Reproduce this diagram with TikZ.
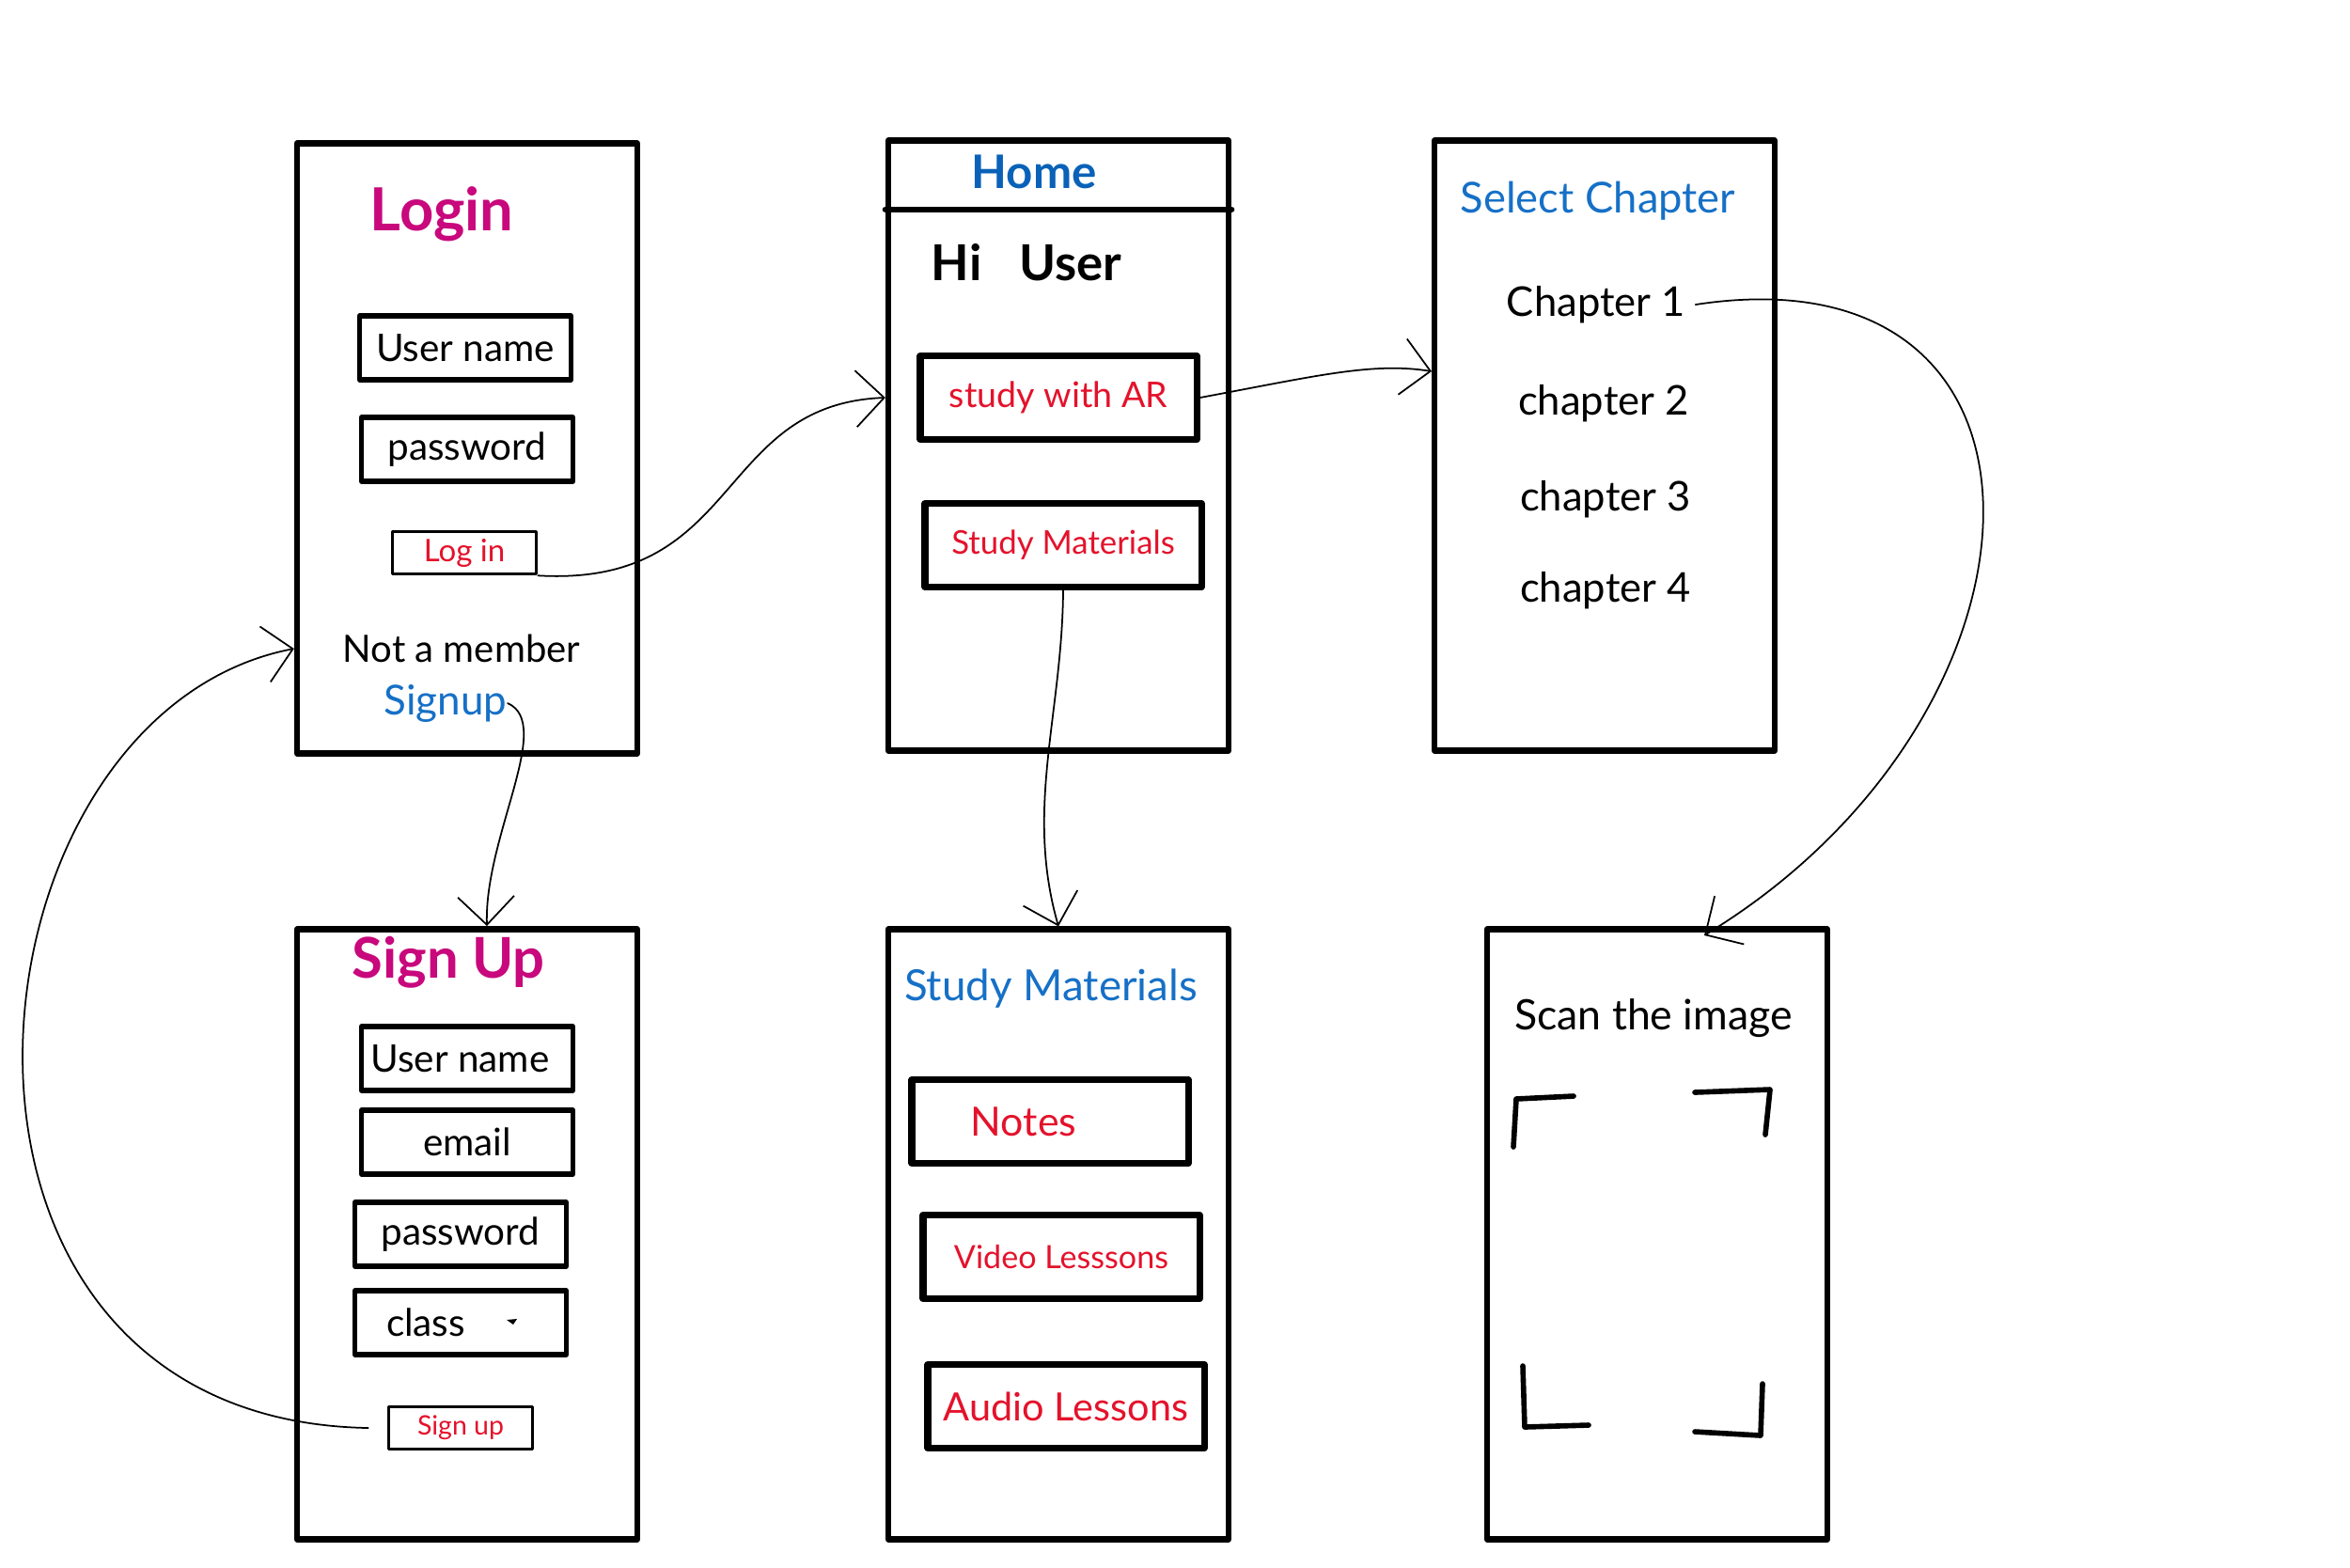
\documentclass[tikz,border=0pt]{standalone}
\usepackage{fontspec}
\setmainfont{Lato}
\usetikzlibrary{arrows.meta}
\definecolor{titlepink}{HTML}{C8087C}
\definecolor{linkblue}{HTML}{1670C6}
\definecolor{homeblue}{HTML}{0A62B8}
\definecolor{btnred}{HTML}{E4122B}
\newcommand{\fsz}[1]{\fontsize{#1}{#1}\selectfont}

\begin{document}
\begin{tikzpicture}[line join=round, line cap=round]
	\tikzstyle{every node}+=[inner sep=0pt]
	\tikzstyle{screen}=[draw=black, line width=1.8pt, minimum width=3.62cm, minimum height=6.49cm]
	\tikzstyle{field}=[draw=black, line width=1.5pt, minimum width=2.25cm, minimum height=0.68cm, font=\fsz{11.5}]
	\tikzstyle{bigbtn}=[draw=black, line width=2pt, minimum width=2.94cm, minimum height=0.89cm, text=btnred]
	\tikzstyle{smallbtn}=[draw=black, line width=1pt, minimum width=1.53cm, minimum height=0.45cm, text=btnred]
	\tikzstyle{flow}=[black, line width=0.5pt, -{Straight Barb[length=3mm,width=6mm]}]
	\useasboundingbox (0,0) rectangle (25,-16.67);
	% login screen
	\node [screen] (login) at (4.97,-4.77) {};
	\node [text=titlepink, font=\fsz{18}\bfseries] (lgtitle) at (4.70,-2.28) {Login};
	\node [field] (lguser) at (4.95,-3.70) {User name};
	\node [field] (lgpass) at (4.97,-4.78) {password};
	\node [smallbtn, font=\fsz{9.4}] (lgbtn) at (4.94,-5.88) {Log in};
	\node [font=\fsz{11.4}] (lgnote) at (4.91,-6.90) {Not a member};
	\node [text=linkblue, font=\fsz{12.5}] (lglink) at (4.74,-7.48) {Signup};
	% home screen
	\node [screen] (home) at (11.26,-4.74) {};
	\draw [line width=1.8pt] ([yshift=-7.65mm]home.north west) -- ([yshift=-7.65mm]home.north east);
	\node [text=homeblue, font=\fsz{14}\bfseries] (hometitle) at (11.00,-1.83) {Home};
	\node [font=\fsz{15}\bfseries] (hiuser) at (10.92,-2.79) {Hi\hspace{0.4cm}User};
	\node [bigbtn, font=\fsz{10.7}] (arbtn) at (11.26,-4.23) {study with AR};
	\node [bigbtn, font=\fsz{9.9}] (smbtn) at (11.31,-5.80) {Study Materials};
	% chapter screen
	\node [screen] (chapters) at (17.07,-4.74) {};
	\node [text=linkblue, font=\fsz{12.9}] (chtitle) at (17.00,-2.14) {Select Chapter};
	\node [font=\fsz{12.4}] (ch1) at (16.98,-3.24) {Chapter 1};
	\node [font=\fsz{12.4}] (ch2) at (17.06,-4.29) {chapter 2};
	\node [font=\fsz{12.4}] (ch3) at (17.08,-5.31) {chapter 3};
	\node [font=\fsz{12.4}] (ch4) at (17.08,-6.28) {chapter 4};
	% sign up screen
	\node [screen] (signup) at (4.97,-13.13) {};
	\node [text=titlepink, font=\fsz{17}\bfseries] (sutitle) at (4.77,-10.24) {Sign Up};
	\node [field] (suuser) at (4.97,-11.26) {User name\kern0.15cm};
	\node [field] (sumail) at (4.97,-12.15) {email};
	\node [field] (supass) at (4.90,-13.13) {password};
	\node [field] (suclass) at (4.90,-14.07) {class\kern0.74cm};
	\fill (5.39,-14.04) -- (5.50,-14.03) -- (5.46,-14.09) -- cycle;
	\node [smallbtn, font=\fsz{8.1}] (subtn) at (4.90,-15.19) {Sign up};
	% study materials screen
	\node [screen] (materials) at (11.26,-13.13) {};
	\node [text=linkblue, font=\fsz{13}] (smtitle) at (11.18,-10.52) {Study Materials};
	\node [bigbtn, font=\fsz{12.2}] (notes) at (11.17,-11.93) {Notes\kern0.56cm};
	\node [bigbtn, font=\fsz{9.7}] (video) at (11.29,-13.37) {Video Lesssons};
	\node [bigbtn, font=\fsz{11.8}] (audio) at (11.34,-14.96) {Audio Lessons};
	% scan screen
	\node [screen] (scan) at (17.63,-13.13) {};
	\node [font=\fsz{12.7}] (scantitle) at (17.59,-10.83) {Scan the image};
	\draw [line width=1.6pt] (16.10,-12.20) -- (16.13,-11.69) -- (16.74,-11.66);
	\draw [line width=1.6pt] (18.03,-11.62) -- (18.83,-11.59) -- (18.78,-12.07);
	\draw [line width=1.6pt] (16.20,-14.53) -- (16.22,-15.18) -- (16.90,-15.16);
	\draw [line width=1.6pt] (18.75,-14.72) -- (18.73,-15.27) -- (18.03,-15.23);
	% links
	\coordinate (chin) at (15.23,-3.95);
	\coordinate (scanin) at (18.13,-9.95);
	\coordinate (suin) at (5.18,-9.85);
	\draw [flow] (lgbtn.south east) .. controls (7.9,-6.25) and (7.6,-4.3) .. (home.west |- arbtn.west);
	\draw [flow] (arbtn.east) .. controls (14.0,-4.0) and (14.6,-3.85) .. (chin);
	\draw [flow] (smbtn.south) .. controls (11.3,-7.6) and (10.9,-8.6) .. (materials.north);
	\draw [flow] ([xshift=1mm]ch1.east) .. controls (22.2,-2.6) and (22.0,-7.6) .. (scanin);
	\draw [flow] (lglink.east) .. controls (5.9,-7.7) and (5.15,-8.9) .. (suin);
	\draw [flow] ([xshift=-2mm]subtn.west) .. controls (-1.2,-15.1) and (-0.5,-7.6) .. (login.west |- lgnote);
\end{tikzpicture}
\end{document}
